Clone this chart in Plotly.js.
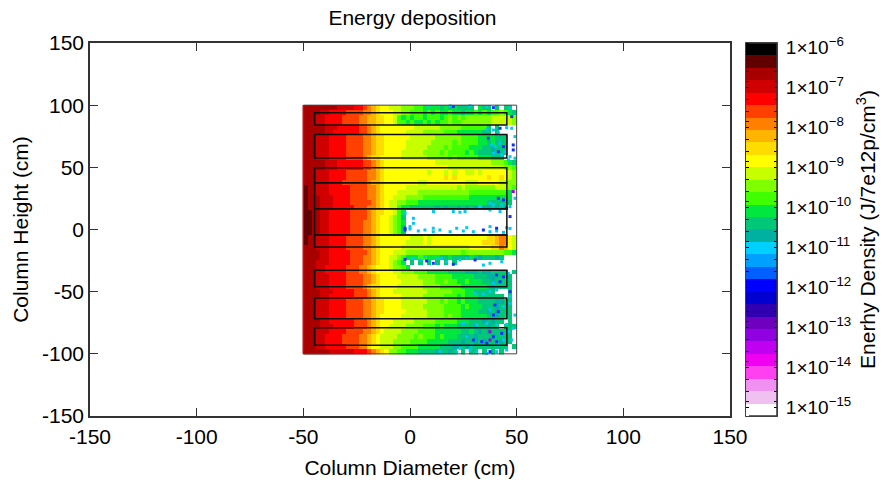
<!DOCTYPE html>
<html><head><meta charset="utf-8">
<script src="https://cdn.plot.ly/plotly-3.0.1.min.js"></script>
<style>html,body{margin:0;padding:0;background:#fff}</style></head>
<body><div id="chart" style="width:888px;height:482px"></div>
<script>
const bandColors = ["#000000","#600000","#a80000","#d00000","#ff0000","#ff4000","#ff8000","#ffb400","#ffdc00","#ffff00","#c8ff00","#80ff00","#40ff00","#00e840","#00c878","#00b0a0","#00d0ff","#00a0ff","#0060ff","#0000ff","#0000d0","#3000b0","#7000c0","#9000e0","#c000f0","#f000f0","#ff40f0","#f090f0","#f0c0f0","#ffffff"];
const bandCodes = "ABCDEFGHIJKLMNOPQRSTUVWXYZabc.";
const logMin = -15.225, logMax = -5.9;
const columnCentres = [-49,-47,-45,-43,-41,-39,-37,-35,-33,-31,-29,-27,-25,-23,-21,-19,-17,-15,-13,-11,-9,-7,-5,-3,-1,1,3,5,7,9,11,13,15,17,19,21,23,25,27,29,31,33,35,37,39,41,43,45,47,49];
const rowCentres = [98,94,90,86,82,78,74,70,66,62,58,54,50,46,42,38,34,30,26,22,18,14,10,6,2,-2,-6,-10,-14,-18,-22,-26,-30,-34,-38,-42,-46,-50,-54,-58,-62,-66,-70,-74,-78,-82,-86,-90,-94,-98];
const densityRows = [
"CCCCCCCCDDDDEEFGHIJJKKKLLLMMNNNNONONOOOO.NOO.O.OO.",
"CCCCDDEEEEFFFFGGHIJJJKKLLMMMNMNMNNMNNONNMNMNMMLMNO",
"CCCDDEEEEFFFFGGHHIIJJKMNMNMMNMMMNMLMLMLLLLLLKKKKKL",
"CCCDDEEEEFFFFGGHHIIJJKMMNMNNMNMNMMLMMLLLLLLLKKKKKL",
"CCCCCDDDEEEEEFFGHIJJJJJJJJKKKKKKLLLLLMMMMMMO.O....",
"CCCCCDDEEEEEEFFGHIJJJJJJKKKKLLLLLMMMNNNNNNOO.O....",
"CCCDDDEEEEFFFFGGHIIJJJJJJKKKKKKLLLLLLMMMMNNNNOOO..",
"CCCDDDEEEEFFFFGGHIIJJJJJKKKKKKLLLLLMLMMMMNNONOOO..",
"CCCDDDEEEEFFFFGGHIIJJJJJKKKKKLLLLMLMMMMNNNOOPOOO..",
"CCCDDDEEEEFFFFGGHIIJJJJKKKKKLLLLMLMMMMNMNOOOPOOO..",
"CCCDDDEEEEFFFFGHIIJJJJJKKKKKKLLLLLMLMMMMMNNNOOO...",
"CCCCCDDDEEEEEEFFGHIJJJJJJJJJJJJKKKKKKKKKKKKKLLLMNO",
"CCCCCDDDEEEEEEFFGHIJJJJJJJJJJJJJJJKKKKKKKKKKKKKLLM",
"CCCDDDEEEEFFFFFGGHIJJJJJJJJJJKJJJKJKJJKKJKJJJJJJKL",
"CCCDDDEEEEFFFFFGGHIJJJJJJJJJJJJJJIJIJJJJJJJIJJIJKL",
"CCCDDDEEEFFFFFFGHHIJJJJJJJJKKJJJJJJJJJKKKJJJJJKKLL",
"BCCDDDEEEEEFFFFGGHIJJJJJKKKKKKKKKKKKLKLLLLLLLKKKLM",
"BCCDDDEEEEEFFFFGGHIJJJKKKKKLLLLLLLLLLLLMMMMMMMMMN.",
"BCCCDDDEEEEFFFFGGHIJJKKKLLLLMMMMMMMMMMMNNNNNNNNNN.",
"BCCCDDDEEEEFFFFFGHIJKKLLMMMNNNNNNNNNNNNNNNNOOOOOO.",
"BCCCDDDEEEEEFFFGGHIJKKMNNOOOOOOPOPOOPOPOPQPPOPOP..",
"BBCCDDEEEEEFFFFGHIIJJKMN..........................",
"BBCCDDEEEEEFFFFGHIJJKLMO..........................",
"BBCCDDEEEEEFFFGGHIJJKLMN..........................",
"BBCCDDEEEEEFFFGGHIJJKLMO..........................",
"BBCCDDEEEEEFFFGGHIJJKLMO..........................",
"BCCDDDEEEEFFFFGGHIJJJJJJJKKKJKJJJJJJJJJJJJJIIHGGJK",
"BCCDDDEEEEFFFFGGHIJJJJJJKKKKJKJJJJJJJJJJJJIIIHGGJK",
"CCCDDDEEEEFFFFGGHIJJJJJKKKKKKKKKKKKKKKKJJJJJIIGHJK",
"CCCCDDEEEEEFFFFGHIJJJKKKLLLLLLLLLLLLLMLLLLLLLLLMMN",
"CCCCDDEEEEEFFFGGHIJJKKLMNNNMMNNNOONOOOPNOPOOOPO...",
"CCCDDDEEEEEFFFGGHIJJKLMN.O.O.O.O.O.O..............",
"CCCDDEEEEEFFFGGHIJJJKLLMN.........................",
"CCCDDEEEEEFFFGGHIJJJJKKLLLMMMNNNNNOOOOPPPOPPOOOO.O",
"CCCDDDEEEEFFFFGGHIJJJJKKKKKLLLLMMMMNNNNNOOOPPOOOO.",
"CCCDDDEEEEFFFFGGHIJJJJJKKKKKLLLMMLMMNNMNNNOOPOOOO.",
"CCCDDDEEEEFFFFGHIIJJJJKKKKKKLLLLMMMMMNNNNNNOPOOOO.",
"CCCCDDDEEEEEFFFGHIJJJKKKKKKKKLLLLLLMMMNNOOOOO...O.",
"CCCCDDEEEEEEFFFGHIJJJJJKKKKKLLLLLMMMNMNNNOOOOOO.O.",
"CCCDDDEEEEFFFFGGHIIJJJJKKKKKKLLLMLMMNMNNNOOOOPPOO.",
"CCCDDDEEEEFFFFGGHIIJJJJKKKKKLLLLLMMMMNMNNNOOOPOOO.",
"CCCDDDEEEEFFFFGGHIIJJJJJKKKKKLLLLMMMMNNNNOOPOPOOO.",
"CCCDDDEEEEFFFFGGHIJJJJJKKKKKKLLLLMLMMNNNNNNOOPOOO.",
"CCCCDDEEEEEEFFFGHIJJJKKKKKLLLLLMMMMMNNNOOOPOPOO.O.",
"CCCCDDDEEEEEFFFGHIJJKKKKLLLLMMMNMNNNOOOOPOOPOO.OOO",
"CCCDDDEEEEFFFFGGHIJKKKKLLLLMMMMNNNNNNOONOPOPOOOOO.",
"CCCDDEEEEFFFFGGHIJKKKKLLLLMLMMMNMNNNOOPOPOOOPOOOO.",
"CCCDDEEEEFFFFGGHIJKKKLLLLMMMMNNNNNOOOPOOPOPOOOPOO.",
"CCCDDEEEEEFFFGGIJJKKKLLMMMMNNNNNOOOPPOPOOOOOOOOO.O",
"CCCCCCDDDDDDEEEFGHIJLLMMNNNOOOOPOOPO.O.OO.O.O.O..."
];
const cyanSpeckX = [18.8,8.6,36,28.1,46.9,36,39.1,45.3,41.4,47.7,49.2,46.9,49.2,46.1,38.3,39.8,42.2,39.1,42.9,44.5,37.5,43,39.1,46.9,49.2,-2.3,1.6,20.3,23.4,25.8,37.5,42.2,11,1.6,0,37.5,26.6,21.9,45.3,10.9,0,3.9,7,10.9,14,18.8,25,29.7,37.5,40.6,43.8,46.9,1.6,4.7,12.5,17.2,23.4,26.6,34.4,37.5,43,7,14.8,45.3,39.1,46.1,30.5,34.4,37.5,40.6,46.9,37.5,43.8,45.3,46.9,49.2,25,31.3,36,40.6,45.3,48.4,26.6,43.8,46.1,47.7,28.9,41.4,14.1,21.9,28.1,31.3,36,40.6,45.3,23.4];
const cyanSpeckY = [99.4,98.8,98.8,99.4,97.5,80.6,80,81.9,78.2,81.4,74.7,58.6,57.3,56,68,66.7,69.3,61.3,60,62.6,21.1,19.8,19.8,18.4,25.1,13,9,14.4,13.9,14.4,15.7,14.4,14.4,5,2.3,2.3,1.5,1,1.5,1,0.4,-1.2,-0.4,-1.8,-0.4,-1.8,-1.2,-1.8,-1.8,-1.2,-2.3,0.9,-23.2,-24.5,-23.2,-25.9,-24.5,-23.2,-28.6,-27.2,-25.9,-21.9,-23.2,-40.6,-43.3,-35.3,-51.3,-51.9,-50,-48.7,-54,-64.7,-62,-70,-59.4,-68.8,-75.5,-76.8,-75.5,-76.8,-76.3,-79.5,-86.2,-88.9,-82.2,-88.9,-92.9,-92.9,-98.2,-98.8,-96.9,-98.2,-99.6,-98.2,-96.9,-95.6];
const blueSpeckX = [20.3,39.1,47.7,42.2,48.4,48.4,36.7,43.8,41.4,41.4,43.8,45.3,46.9,-2.3,40.6,-2.3,34.4,-2.3,10.9,20.3,7.8,30.5,40.6,43.8,42.2,46.9,39.8,39.1,41.4,39.1,36,40.6,43,33.6,29.7,37.5];
const blueSpeckY = [98.8,98,90.8,81.4,68,64,73.4,66.7,62.6,25.1,23.8,17,10.4,1,1,-0.4,-0.4,-24,-27.2,-28,-25.3,-24.5,-36.6,-38,-42,-50,-60.7,-68.8,-66,-86.2,-91.5,-90.2,-83.5,-90.2,-88.9,-98.2];
const violetSpeckX = [37.5,37.5,48.4];
const violetSpeckY = [-82.2,-88.9,30.5];
const frameLeft = -50, frameRight = 50, frameTop = 100, frameBottom = -100;
const boxLeft = -44.7, boxRight = 45.4;
const boxTops = [94,76.5,49.6,37.7,16.7,-4.5,-32.7,-55,-79];
const boxBottoms = [84,57.5,37.7,16.7,-4.5,-14,-46,-71.7,-93];
const axisTicks = [-150,-100,-50,0,50,100,150];
const axisTickLabels = ["-150","-100","-50","0","50","100","150"];
const tickExponents = [-6,-7,-8,-9,-10,-11,-12,-13,-14,-15];
const minorTicks = [-6.3,-6.6,-6.85,-7.3,-7.6,-7.85,-8.3,-8.6,-8.85,-9.3,-9.6,-9.85,-10.3,-10.6,-10.85,-11.3,-11.6,-11.85,-12.3,-12.6,-12.85,-13.3,-13.6,-13.85,-14.3,-14.6,-14.85];

const n = bandColors.length, step = (logMax - logMin) / n;
const z = densityRows.map(r => r.split("").map(ch => {
  const band = n - 1 - bandCodes.indexOf(ch);
  return logMin + (band + 0.5) * step;
}));
const colorscale = [];
for (let i = 0; i < n; i++) {
  const c = bandColors[n - 1 - i];
  colorscale.push([i / n, c], [(i + 1) / n, c]);
}
const barBase = {x: 1.025, xanchor: "left", xpad: 0, y: 0, yanchor: "bottom", ypad: 0, len: 1, thickness: 31, outlinecolor: "#333", outlinewidth: 1.5};
const heatBase = {type: "heatmap", x: columnCentres, y: rowCentres, z: z, zmin: logMin, zmax: logMax, colorscale: colorscale, zsmooth: false, hoverinfo: "skip"};
const heat = Object.assign({}, heatBase, {
  colorbar: Object.assign({}, barBase, {
    tickmode: "array", tickvals: tickExponents,
    ticktext: tickExponents.map(e => "\u20091×10<sup>\u2212" + Math.abs(e) + "</sup>"),
    ticks: "", tickfont: {size: 19, color: "#000"},
    title: {text: "Enerhy Density (J/7e12p/cm<sup>3</sup>)", side: "right", font: {size: 21, color: "#000"}}
  })
});
const tickBar = {tickmode: "array", tickvals: tickExponents.concat(minorTicks), showticklabels: false, ticks: "inside", ticklen: 3, tickcolor: "#000", tickwidth: 1};
const heatTicksRight = Object.assign({}, heatBase, {colorbar: Object.assign({}, barBase, tickBar)});
const heatTicksLeft = Object.assign({}, heatBase, {colorbar: Object.assign({}, barBase, tickBar, {thickness: 3, outlinewidth: 0})});
function specks(x, y, color) {
  return {type: "scatter", mode: "markers", x: x, y: y, hoverinfo: "skip", showlegend: false,
    marker: {symbol: "square", size: 3, color: color, line: {width: 0}}};
}
const wall = {type: "scatter", mode: "lines", x: [frameLeft, frameLeft], y: [frameBottom, frameTop],
  line: {color: "#ff0000", width: 1.5}, hoverinfo: "skip", showlegend: false};
const shapes = [{type: "rect", x0: frameLeft, x1: frameRight, y0: frameBottom, y1: frameTop, line: {color: "#444", width: 1}}];
boxTops.forEach((t, i) => shapes.push({type: "rect", x0: boxLeft, x1: boxRight, y0: boxBottoms[i], y1: t, line: {color: "#111", width: 1.5}}));
const axis = {range: [-150, 150], tickmode: "array", tickvals: axisTicks, ticktext: axisTickLabels, ticks: "inside", ticklen: 8, tickcolor: "#333", tickwidth: 1,
  showline: true, linecolor: "#333", linewidth: 1.5, mirror: "allticks", showgrid: false, zeroline: false, tickfont: {size: 21, color: "#000"}, automargin: false};
const layout = {
  width: 888, height: 482, margin: {l: 90, r: 158, t: 43, b: 66, autoexpand: false}, paper_bgcolor: "#fff", plot_bgcolor: "#fff",
  font: {family: "Liberation Sans, Arial, sans-serif", color: "#000"}, showlegend: false,
  title: {text: "Energy deposition", x: 0.4645, xanchor: "center", y: 0.978, font: {size: 21, color: "#000"}},
  xaxis: Object.assign({}, axis, {ticklabelstandoff: 1, title: {text: "Column Diameter (cm)", standoff: 13, font: {size: 21, color: "#000"}}}),
  yaxis: Object.assign({}, axis, {title: {text: "Column Height (cm)", standoff: 8, font: {size: 21, color: "#000"}}}),
  shapes: shapes
};
Plotly.newPlot("chart", [heat, heatTicksRight, heatTicksLeft, specks(cyanSpeckX, cyanSpeckY, "#00c8f0"), specks(blueSpeckX, blueSpeckY, "#1030ff"), specks(violetSpeckX, violetSpeckY, "#a000e0"), wall], layout, {displayModeBar: false});
</script></body></html>
